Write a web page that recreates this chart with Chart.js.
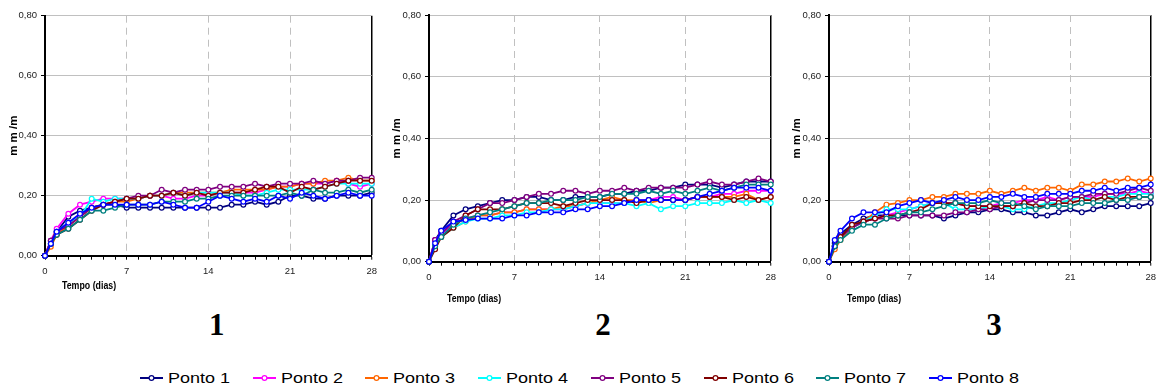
<!DOCTYPE html>
<html><head><meta charset="utf-8">
<script src="https://cdn.jsdelivr.net/npm/chart.js@4/dist/chart.umd.min.js"></script>
<style>
html,body{margin:0;padding:0;background:#fff;}
body{width:1162px;height:389px;overflow:hidden;position:relative;font-family:"Liberation Sans",Arial,sans-serif;color:#000}
canvas{position:absolute;top:0}
.xt{position:absolute;font-family:"Liberation Sans",Arial,sans-serif;font-weight:bold;font-size:11px;line-height:12px;white-space:nowrap;transform:scaleX(0.8);transform-origin:left center}
.pn{position:absolute;font-family:"Liberation Serif","Times New Roman",serif;font-weight:bold;font-size:31px;line-height:32px;transform:translateX(-50%)}
.lg{position:absolute;top:369px;height:17px;display:flex;align-items:center;white-space:nowrap}
.lg svg{display:block;margin-right:5px}
.lg span{display:inline-block;font-size:15px;line-height:17px;transform:scaleX(1.2);transform-origin:left center}
</style>
</head><body>
<canvas id="c1" width="386" height="291" style="left:0px"></canvas>
<canvas id="c2" width="400" height="304" style="left:384px"></canvas>
<canvas id="c3" width="378" height="304" style="left:784px"></canvas>
<div id="overlay"></div>
<script>
// ---- data ----
const days = [0,0.5,1,2,3,4,5,6,7,8,9,10,11,12,13,14,15,16,17,18,19,20,21,22,23,24,25,26,27,28];
const seriesNames = ['Ponto 1','Ponto 2','Ponto 3','Ponto 4','Ponto 5','Ponto 6','Ponto 7','Ponto 8'];
const seriesColors = ['#000080','#FF00FF','#FF6600','#00FFFF','#800080','#800000','#008080','#0000FF'];
const yTicks = [0,0.2,0.4,0.6,0.8];
const xLabelDays = [0,7,14,21,28];
const panelLabels = ['1','2','3'];
const xTitle = 'Tempo (dias)';
const yTitle = 'm m /m';

// Panel 1
const p1_ponto1 = [0,0.05,0.08,0.13,0.15,0.16,0.17,0.17,0.16,0.16,0.16,0.16,0.16,0.16,0.16,0.16,0.16,0.17,0.17,0.18,0.17,0.18,0.20,0.20,0.19,0.19,0.20,0.20,0.20,0.21];
const p1_ponto2 = [0,0.05,0.09,0.14,0.17,0.18,0.19,0.19,0.19,0.19,0.20,0.20,0.19,0.19,0.20,0.20,0.21,0.21,0.21,0.21,0.22,0.23,0.23,0.24,0.24,0.24,0.25,0.24,0.23,0.24];
const p1_ponto3 = [0,0.03,0.07,0.10,0.13,0.16,0.17,0.18,0.18,0.19,0.20,0.20,0.21,0.21,0.21,0.21,0.21,0.22,0.22,0.22,0.22,0.23,0.23,0.24,0.24,0.25,0.25,0.26,0.25,0.25];
const p1_ponto4 = [0,0.04,0.08,0.11,0.13,0.19,0.18,0.19,0.19,0.19,0.20,0.20,0.21,0.20,0.21,0.21,0.21,0.21,0.20,0.20,0.21,0.22,0.22,0.22,0.22,0.23,0.24,0.24,0.24,0.24];
const p1_ponto5 = [0,0.05,0.08,0.10,0.13,0.16,0.17,0.18,0.19,0.20,0.20,0.22,0.21,0.22,0.22,0.22,0.23,0.23,0.23,0.24,0.23,0.24,0.24,0.24,0.25,0.24,0.25,0.25,0.26,0.26];
const p1_ponto6 = [0,0.04,0.07,0.09,0.12,0.15,0.17,0.18,0.19,0.19,0.20,0.20,0.21,0.20,0.21,0.20,0.21,0.21,0.21,0.22,0.23,0.23,0.21,0.23,0.22,0.23,0.24,0.25,0.25,0.25];
const p1_ponto7 = [0,0.04,0.07,0.09,0.12,0.15,0.15,0.16,0.17,0.17,0.17,0.18,0.18,0.18,0.19,0.19,0.20,0.20,0.20,0.20,0.20,0.20,0.21,0.20,0.22,0.21,0.21,0.22,0.21,0.22];
const p1_ponto8 = [0,0.04,0.08,0.11,0.14,0.16,0.17,0.17,0.17,0.17,0.17,0.18,0.17,0.16,0.16,0.18,0.20,0.19,0.18,0.19,0.18,0.20,0.19,0.21,0.20,0.19,0.20,0.21,0.20,0.20];

// Panel 2
const p2_ponto1 = [0,0.07,0.10,0.15,0.17,0.18,0.19,0.20,0.20,0.21,0.21,0.20,0.20,0.21,0.21,0.21,0.22,0.22,0.23,0.23,0.24,0.24,0.25,0.25,0.25,0.24,0.25,0.26,0.26,0.26];
const p2_ponto2 = [0,0.07,0.09,0.12,0.14,0.15,0.15,0.16,0.16,0.17,0.17,0.17,0.17,0.18,0.19,0.19,0.19,0.19,0.20,0.20,0.21,0.21,0.20,0.21,0.21,0.22,0.22,0.23,0.23,0.23];
const p2_ponto3 = [0,0.05,0.08,0.11,0.13,0.15,0.15,0.16,0.16,0.17,0.17,0.17,0.18,0.18,0.19,0.20,0.21,0.20,0.20,0.19,0.20,0.20,0.20,0.21,0.21,0.21,0.21,0.22,0.20,0.21];
const p2_ponto4 = [0,0.05,0.08,0.11,0.13,0.14,0.14,0.15,0.15,0.16,0.16,0.17,0.17,0.18,0.19,0.19,0.19,0.19,0.18,0.19,0.17,0.18,0.18,0.19,0.19,0.19,0.20,0.19,0.20,0.19];
const p2_ponto5 = [0,0.07,0.09,0.13,0.15,0.17,0.19,0.19,0.20,0.21,0.22,0.22,0.23,0.23,0.22,0.23,0.23,0.24,0.23,0.24,0.24,0.24,0.24,0.25,0.26,0.25,0.25,0.26,0.27,0.26];
const p2_ponto6 = [0,0.04,0.08,0.11,0.15,0.17,0.17,0.17,0.18,0.19,0.19,0.19,0.18,0.19,0.20,0.20,0.20,0.20,0.19,0.20,0.20,0.20,0.20,0.21,0.21,0.21,0.20,0.21,0.20,0.21];
const p2_ponto7 = [0,0.05,0.08,0.12,0.14,0.15,0.16,0.17,0.18,0.19,0.19,0.20,0.20,0.20,0.21,0.21,0.22,0.22,0.22,0.23,0.22,0.23,0.22,0.23,0.24,0.23,0.24,0.25,0.25,0.25];
const p2_ponto8 = [0,0.06,0.10,0.13,0.135,0.14,0.14,0.14,0.15,0.15,0.16,0.16,0.16,0.17,0.17,0.18,0.18,0.19,0.20,0.20,0.20,0.20,0.20,0.21,0.22,0.23,0.24,0.24,0.24,0.23];

// Panel 3
const p3_ponto1 = [0,0.06,0.09,0.12,0.14,0.15,0.15,0.15,0.15,0.15,0.15,0.14,0.15,0.16,0.16,0.17,0.17,0.16,0.16,0.15,0.15,0.16,0.17,0.16,0.17,0.18,0.18,0.18,0.18,0.19];
const p3_ponto2 = [0,0.05,0.08,0.11,0.13,0.14,0.15,0.16,0.17,0.18,0.19,0.19,0.19,0.18,0.18,0.18,0.19,0.19,0.20,0.20,0.21,0.20,0.21,0.21,0.21,0.22,0.22,0.22,0.23,0.22];
const p3_ponto3 = [0,0.04,0.07,0.11,0.13,0.16,0.185,0.19,0.20,0.20,0.21,0.21,0.22,0.22,0.22,0.23,0.22,0.23,0.24,0.23,0.24,0.24,0.23,0.25,0.25,0.26,0.26,0.27,0.26,0.27];
const p3_ponto4 = [0,0.05,0.08,0.11,0.13,0.15,0.17,0.17,0.17,0.18,0.19,0.19,0.17,0.17,0.17,0.18,0.18,0.17,0.17,0.18,0.19,0.19,0.20,0.21,0.20,0.21,0.21,0.22,0.22,0.22];
const p3_ponto5 = [0,0.05,0.08,0.11,0.13,0.14,0.14,0.14,0.15,0.15,0.15,0.15,0.16,0.16,0.17,0.17,0.18,0.18,0.19,0.20,0.20,0.20,0.21,0.21,0.22,0.22,0.22,0.23,0.24,0.23];
const p3_ponto6 = [0,0.05,0.08,0.12,0.13,0.14,0.15,0.15,0.16,0.17,0.19,0.19,0.19,0.18,0.18,0.18,0.18,0.18,0.19,0.18,0.18,0.19,0.19,0.20,0.20,0.21,0.20,0.21,0.21,0.21];
const p3_ponto7 = [0,0.05,0.07,0.10,0.12,0.12,0.14,0.15,0.16,0.16,0.17,0.18,0.19,0.19,0.19,0.20,0.19,0.19,0.18,0.17,0.18,0.18,0.18,0.19,0.19,0.19,0.20,0.20,0.21,0.21];
const p3_ponto8 = [0,0.07,0.10,0.14,0.16,0.16,0.16,0.18,0.19,0.20,0.19,0.20,0.21,0.20,0.20,0.21,0.21,0.22,0.21,0.21,0.22,0.22,0.22,0.23,0.23,0.24,0.23,0.24,0.24,0.25];

const panel1 = [p1_ponto1,p1_ponto2,p1_ponto3,p1_ponto4,p1_ponto5,p1_ponto6,p1_ponto7,p1_ponto8];
const panel2 = [p2_ponto1,p2_ponto2,p2_ponto3,p2_ponto4,p2_ponto5,p2_ponto6,p2_ponto7,p2_ponto8];
const panel3 = [p3_ponto1,p3_ponto2,p3_ponto3,p3_ponto4,p3_ponto5,p3_ponto6,p3_ponto7,p3_ponto8];

// ---- drawing ----
const tickFont = {family:'"Liberation Sans", Arial, sans-serif', size:9.5};
const TRANSPARENT = 'rgba(0,0,0,0)';

function makeChart(id, series, g) {
  return new Chart(document.getElementById(id), {
    type: 'line',
    data: {
      datasets: series.map((vals, i) => ({
        label: seriesNames[i],
        data: vals.map((v, k) => ({x: days[k], y: v})),
        borderColor: seriesColors[i],
        backgroundColor: '#ffffff',
        pointBackgroundColor: '#ffffff',
        pointBorderColor: seriesColors[i],
        pointRadius: 2.4,
        pointBorderWidth: 1.2,
        borderWidth: 1.8,
        tension: 0,
        clip: false,
        order: 8 - i
      }))
    },
    options: {
      responsive: false,
      animation: false,
      events: [],
      layout: {padding: {left: 0, right: g.padR, top: g.padT, bottom: 0}},
      plugins: {legend: {display: false}, tooltip: {enabled: false}},
      scales: {
        x: {
          type: 'linear', min: 0, max: 28,
          afterBuildTicks: s => { s.ticks = days.filter(d => Number.isInteger(d)).map(v => ({value: v})); },
          afterFit: s => { s.height = g.xH; },
          ticks: {
            autoSkip: false, maxRotation: 0, padding: 6, color: '#222', font: tickFont,
            callback: v => xLabelDays.includes(v) ? String(v) : ''
          },
          grid: {
            color: c => { const v = c.tick ? c.tick.value : null;
              if (v === 28) return '#000000';
              if (v === 7 || v === 14 || v === 21) return '#c0c0c0';
              return TRANSPARENT; },
            lineWidth: c => (c.tick && c.tick.value === 28) ? 1.5 : 1,
            tickColor: '#000000', tickLength: 4, tickWidth: 1
          },
          border: {
            color: '#000000', width: 2,
            dash: c => (c.tick && [7,14,21].includes(c.tick.value)) ? [7,5] : []
          }
        },
        y: {
          type: 'linear', min: 0, max: 0.8,
          afterBuildTicks: s => { s.ticks = yTicks.map(v => ({value: v})); },
          afterFit: s => { s.width = 45; },
          ticks: {padding: 4, color: '#222', font: tickFont,
            callback: v => Number(v).toFixed(2).replace('.', ',')},
          grid: {
            color: c => (c.tick && c.tick.value === 0) ? TRANSPARENT : '#c0c0c0',
            lineWidth: 1, tickColor: '#000000', tickLength: 4
          },
          border: {color: '#000000', width: 2},
          title: {display: true, text: yTitle, color: '#000',
            font: {family: '"Liberation Sans", Arial, sans-serif', size: 11.5, weight: 'bold'},
            padding: {top: g.yTitlePad, bottom: 0}}
        }
      }
    }
  });
}

makeChart('c1', panel1, {padR: 14.3, padT: 15.7, xH: 35.3, yTitlePad: 7});
makeChart('c2', panel2, {padR: 13.3, padT: 15,   xH: 42.3, yTitlePad: 5.7});
makeChart('c3', panel3, {padR: 5.3,  padT: 15,   xH: 42.3, yTitlePad: 5.7});

// ---- HTML text: axis titles, panel numbers, legend ----
const ov = document.getElementById('overlay');
const xTitlePos = [[62, 279], [446.7, 291.7], [846.7, 291.7]];
xTitlePos.forEach(([l, t]) => {
  const d = document.createElement('div'); d.className = 'xt';
  d.style.left = l + 'px'; d.style.top = t + 'px'; d.textContent = xTitle; ov.appendChild(d);
});
const panelLabelPos = [[216.7, 308.5], [603, 308.5], [994, 308.5]];
panelLabels.forEach((txt, i) => {
  const d = document.createElement('div'); d.className = 'pn';
  d.style.left = panelLabelPos[i][0] + 'px'; d.style.top = panelLabelPos[i][1] + 'px';
  d.textContent = txt; ov.appendChild(d);
});
seriesNames.forEach((name, i) => {
  const d = document.createElement('div'); d.className = 'lg';
  d.style.left = (140 + 112.7 * i) + 'px';
  const c = seriesColors[i];
  d.innerHTML = '<svg width="23" height="10" viewBox="0 0 23 10"><line x1="0" y1="5" x2="23" y2="5" stroke="' + c +
    '" stroke-width="2"/><circle cx="11.5" cy="5" r="2.4" fill="#fff" stroke="' + c + '" stroke-width="1.2"/></svg>';
  const s = document.createElement('span'); s.textContent = name; d.appendChild(s);
  ov.appendChild(d);
});
</script>
</body></html>
